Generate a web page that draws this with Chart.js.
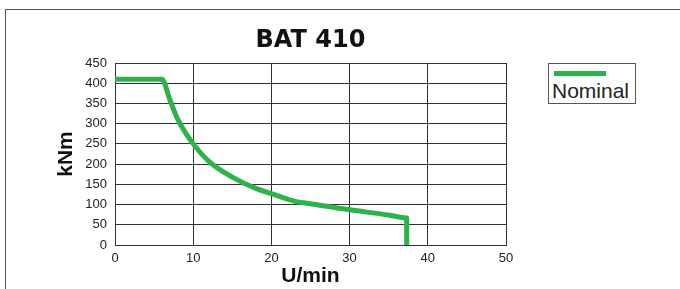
<!DOCTYPE html>
<html>
<head>
<meta charset="utf-8">
<script src="https://cdn.jsdelivr.net/npm/chart.js@4/dist/chart.umd.min.js"></script>
<style>
html,body{margin:0;padding:0;background:#fff;}
#wrap{position:relative;width:680px;height:289px;overflow:hidden;}
#frame{position:absolute;left:5px;top:9px;width:700px;height:300px;border-left:1.5px solid #555;border-top:1.5px solid #555;box-sizing:border-box;}
#title{position:absolute;left:0;width:621px;top:25px;text-align:center;font:bold 24px "DejaVu Sans",sans-serif;color:#111;}
#legend{position:absolute;left:548px;top:63px;width:88px;height:41px;border:1px solid #555;box-sizing:border-box;background:#fff;}
#legend .sw{position:absolute;left:5px;top:7px;width:52px;height:5px;}
#legend .lb{position:absolute;left:3px;top:15px;font:21px "Liberation Sans",Arial,sans-serif;color:#222;}
canvas{position:absolute;left:0;top:0;}
</style>
</head>
<body>
<div id="wrap">
<div id="frame"></div>
<canvas id="c" width="680" height="289"></canvas>
<div id="title"></div>
<div id="legend"><div class="sw"></div><div class="lb"></div></div>
</div>
<script>
const chartTitle = "BAT 410";
const seriesLabel = "Nominal";
const xAxisTitle = "U/min";
const yAxisTitle = "kNm";
const speed  = [0, 6, 7, 8, 10, 12, 15, 18, 20, 23, 25, 30, 35, 37.3, 37.3];
const torque = [410, 410, 360, 312, 250, 207, 168, 140, 127, 108, 102, 87, 74, 67, 0];
const lineColor = "#2db34a";

document.getElementById('title').textContent = chartTitle;
document.querySelector('#legend .lb').textContent = seriesLabel;
document.querySelector('#legend .sw').style.background = lineColor;

const pts = speed.map((x, i) => ({x: x, y: torque[i]}));
new Chart(document.getElementById('c'), {
  type: 'line',
  data: { datasets: [{ label: seriesLabel, data: pts, borderColor: lineColor, borderWidth: 5, pointRadius: 0, cubicInterpolationMode: 'monotone', fill: false, borderCapStyle: 'butt', borderJoinStyle: 'round' }] },
  options: {
    responsive: false, animation: false,
    layout: { padding: { left: 50, top: 63, right: 174, bottom: 0 } },
    plugins: { legend: { display: false }, title: { display: false }, tooltip: { enabled: false } },
    scales: {
      x: {
        type: 'linear', min: 0, max: 50,
        ticks: { stepSize: 10, padding: 6, color: '#222', font: { family: 'Liberation Sans', size: 13 } },
        grid: { color: '#333', lineWidth: 1, drawTicks: false },
        border: { color: '#333', width: 1 },
        title: { display: true, text: xAxisTitle, color: '#111', font: { family: 'Liberation Sans', size: 21, weight: 'bold' }, padding: { top: 0, bottom: 0 } },
        afterFit: s => { s.height = 44; }
      },
      y: {
        min: 0, max: 450,
        ticks: { stepSize: 50, padding: 8, color: '#222', font: { family: 'Liberation Sans', size: 13 } },
        grid: { color: '#333', lineWidth: 1, drawTicks: false },
        border: { color: '#333', width: 1 },
        title: { display: true, text: yAxisTitle, color: '#111', font: { family: 'Liberation Sans', size: 21, weight: 'bold' }, padding: { top: 4, bottom: 0 } },
        afterFit: s => { s.width = 65; }
      }
    }
  }
});
</script>
</body>
</html>
